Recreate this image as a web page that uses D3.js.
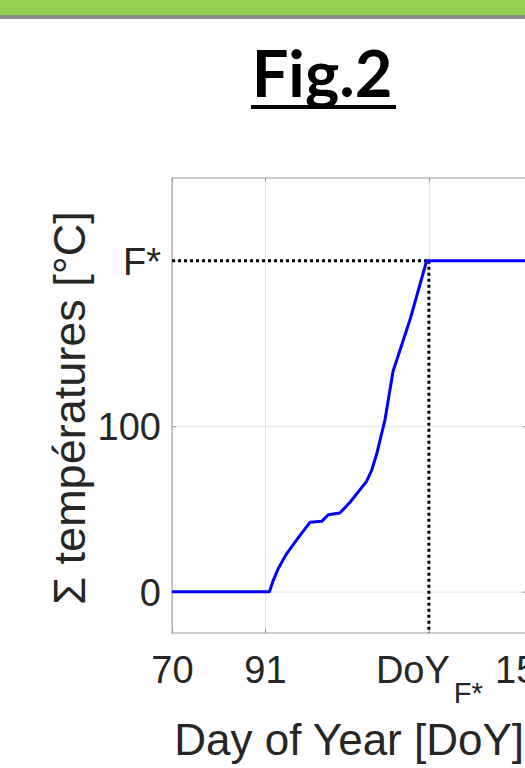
<!DOCTYPE html>
<html>
<head>
<meta charset="utf-8">
<script src="https://cdn.jsdelivr.net/npm/d3@7"></script>
<style>
  body { margin: 0; background: #fff; }
  svg { display: block; }
</style>
</head>
<body>
<svg width="525" height="768"></svg>
<script>
// data
var days = [70, 92, 92.9, 94, 95.9, 98.9, 101.2, 103.8, 105.3, 107.9, 110.2, 113.9, 115.1, 116.2, 118.1, 119.9, 123.7, 127.5, 150];
var sums = [0, 0, 7, 14, 23, 34, 42, 42.5, 46.5, 47.5, 54, 66.5, 73.5, 83, 104, 133, 164, 200, 200];
var xTicks = [70, 91, 128, 150];
var xTickLabels = ['70', '91', 'DoY', '150'];
var yTicks = [0, 100, 200];
var yTickLabels = ['0', '100', 'F*'];
var fStar = 200;   // threshold
var doyF = 128;    // day it is reached

const svg = d3.select('svg');

// top banner
svg.append('rect').attr('x', 0).attr('y', 0).attr('width', 525).attr('height', 15).style('fill', '#92d050');
svg.append('rect').attr('x', 0).attr('y', 15).attr('width', 525).attr('height', 4).style('fill', '#8c8c8c');

// title
svg.append('text')
  .attr('x', 322).attr('y', 97)
  .attr('text-anchor', 'middle')
  .style('font-family', 'Lato, sans-serif')
  .style('font-weight', 'bold')
  .style('font-size', '65px')
  .style('fill', '#000')
  .text('Fig.2');
svg.append('rect').attr('x', 251).attr('y', 105).attr('width', 145).attr('height', 4).style('fill', '#000');

// plot area (no "top" name, it is window.top)
var pLeft = 172, pRight = 526.3, pTop = 178, pBottom = 633;
const x = d3.scaleLinear().domain([70, 150]).range([pLeft, pRight]);
const y = d3.scaleLinear().domain([-25, 250]).range([pBottom, pTop]);

// grid
svg.append('g')
  .attr('transform', 'translate(0,' + pBottom + ')')
  .call(d3.axisBottom(x).tickValues(xTicks).tickSize(-(pBottom - pTop)).tickFormat(''))
  .call(g => g.select('.domain').remove())
  .selectAll('line').style('stroke', '#e3e3e3');
svg.append('g')
  .attr('transform', 'translate(' + pLeft + ',0)')
  .call(d3.axisLeft(y).tickValues(yTicks).tickSize(-(pRight - pLeft)).tickFormat(''))
  .call(g => g.select('.domain').remove())
  .selectAll('line').style('stroke', '#e3e3e3');

// box
svg.append('rect')
  .attr('x', pLeft).attr('y', pTop)
  .attr('width', pRight - pLeft).attr('height', pBottom - pTop)
  .style('fill', 'none').style('stroke', '#9a9a9a').style('stroke-width', 1);

// x axis (ticks inside)
const xAxis = svg.append('g')
  .attr('transform', 'translate(0,' + pBottom + ')')
  .call(d3.axisBottom(x).tickValues(xTicks).tickSize(-4).tickFormat((d, i) => xTickLabels[i]));
xAxis.select('.domain').remove();
xAxis.selectAll('line').style('stroke', '#9a9a9a');
xAxis.selectAll('text')
  .attr('y', 50).attr('dy', null)
  .style('font-family', '"Liberation Sans", Arial, sans-serif')
  .style('font-size', '38px')
  .style('fill', '#262626');
// subscript for DoY_F*
xAxis.selectAll('text').filter(d => d == doyF)
  .each(function() {
    var t = d3.select(this);
    t.text('');
    t.append('tspan').text('DoY');
    t.append('tspan').attr('dx', 4).attr('dy', 20).style('font-size', '29px').text('F*');
  });

// top / right tick marks
svg.append('g')
  .attr('transform', 'translate(0,' + pTop + ')')
  .call(d3.axisTop(x).tickValues(xTicks).tickSize(-4).tickFormat(''))
  .call(g => g.select('.domain').remove())
  .selectAll('line').style('stroke', '#9a9a9a');
svg.append('g')
  .attr('transform', 'translate(' + pRight + ',0)')
  .call(d3.axisRight(y).tickValues(yTicks).tickSize(-4).tickFormat(''))
  .call(g => g.select('.domain').remove())
  .selectAll('line').style('stroke', '#9a9a9a');

// y axis
const yAxis = svg.append('g')
  .attr('transform', 'translate(' + pLeft + ',0)')
  .call(d3.axisLeft(y).tickValues(yTicks).tickSize(-4).tickPadding(11).tickFormat((d, i) => yTickLabels[i]));
yAxis.select('.domain').remove();
yAxis.selectAll('line').style('stroke', '#9a9a9a');
yAxis.selectAll('text')
  .attr('dy', '0.36em')
  .style('font-family', '"Liberation Sans", Arial, sans-serif')
  .style('font-size', '38px')
  .style('fill', '#262626');

// axis titles
svg.append('text')
  .attr('x', (pLeft + pRight) / 2).attr('y', 755)
  .attr('text-anchor', 'middle')
  .style('font-family', '"Liberation Sans", Arial, sans-serif')
  .style('font-size', '44px')
  .style('fill', '#262626')
  .text('Day of Year [DoY]');
svg.append('text')
  .attr('transform', 'translate(85,' + 408 + ') rotate(-90)')
  .attr('text-anchor', 'middle')
  .style('font-family', '"Liberation Sans", Arial, sans-serif')
  .style('font-size', '45px')
  .style('fill', '#262626')
  .text('\u03a3 températures [°C]');

// dotted guides
svg.append('line')
  .attr('x1', x(70)).attr('x2', x(doyF))
  .attr('y1', y(fStar)).attr('y2', y(fStar))
  .style('stroke', '#000').style('stroke-width', 3).style('stroke-dasharray', '3,3');
svg.append('line')
  .attr('x1', x(doyF)).attr('x2', x(doyF))
  .attr('y1', y(fStar)).attr('y2', y(-25))
  .style('stroke', '#000').style('stroke-width', 3).style('stroke-dasharray', '3,3');

// cumulated temperature curve
const line = d3.line().x((d, i) => x(days[i])).y(d => y(d));
svg.append('path')
  .datum(sums)
  .attr('d', line)
  .style('fill', 'none')
  .style('stroke', '#0000ff')
  .style('stroke-width', 3)
  .style('stroke-linejoin', 'round');
</script>
</body>
</html>
